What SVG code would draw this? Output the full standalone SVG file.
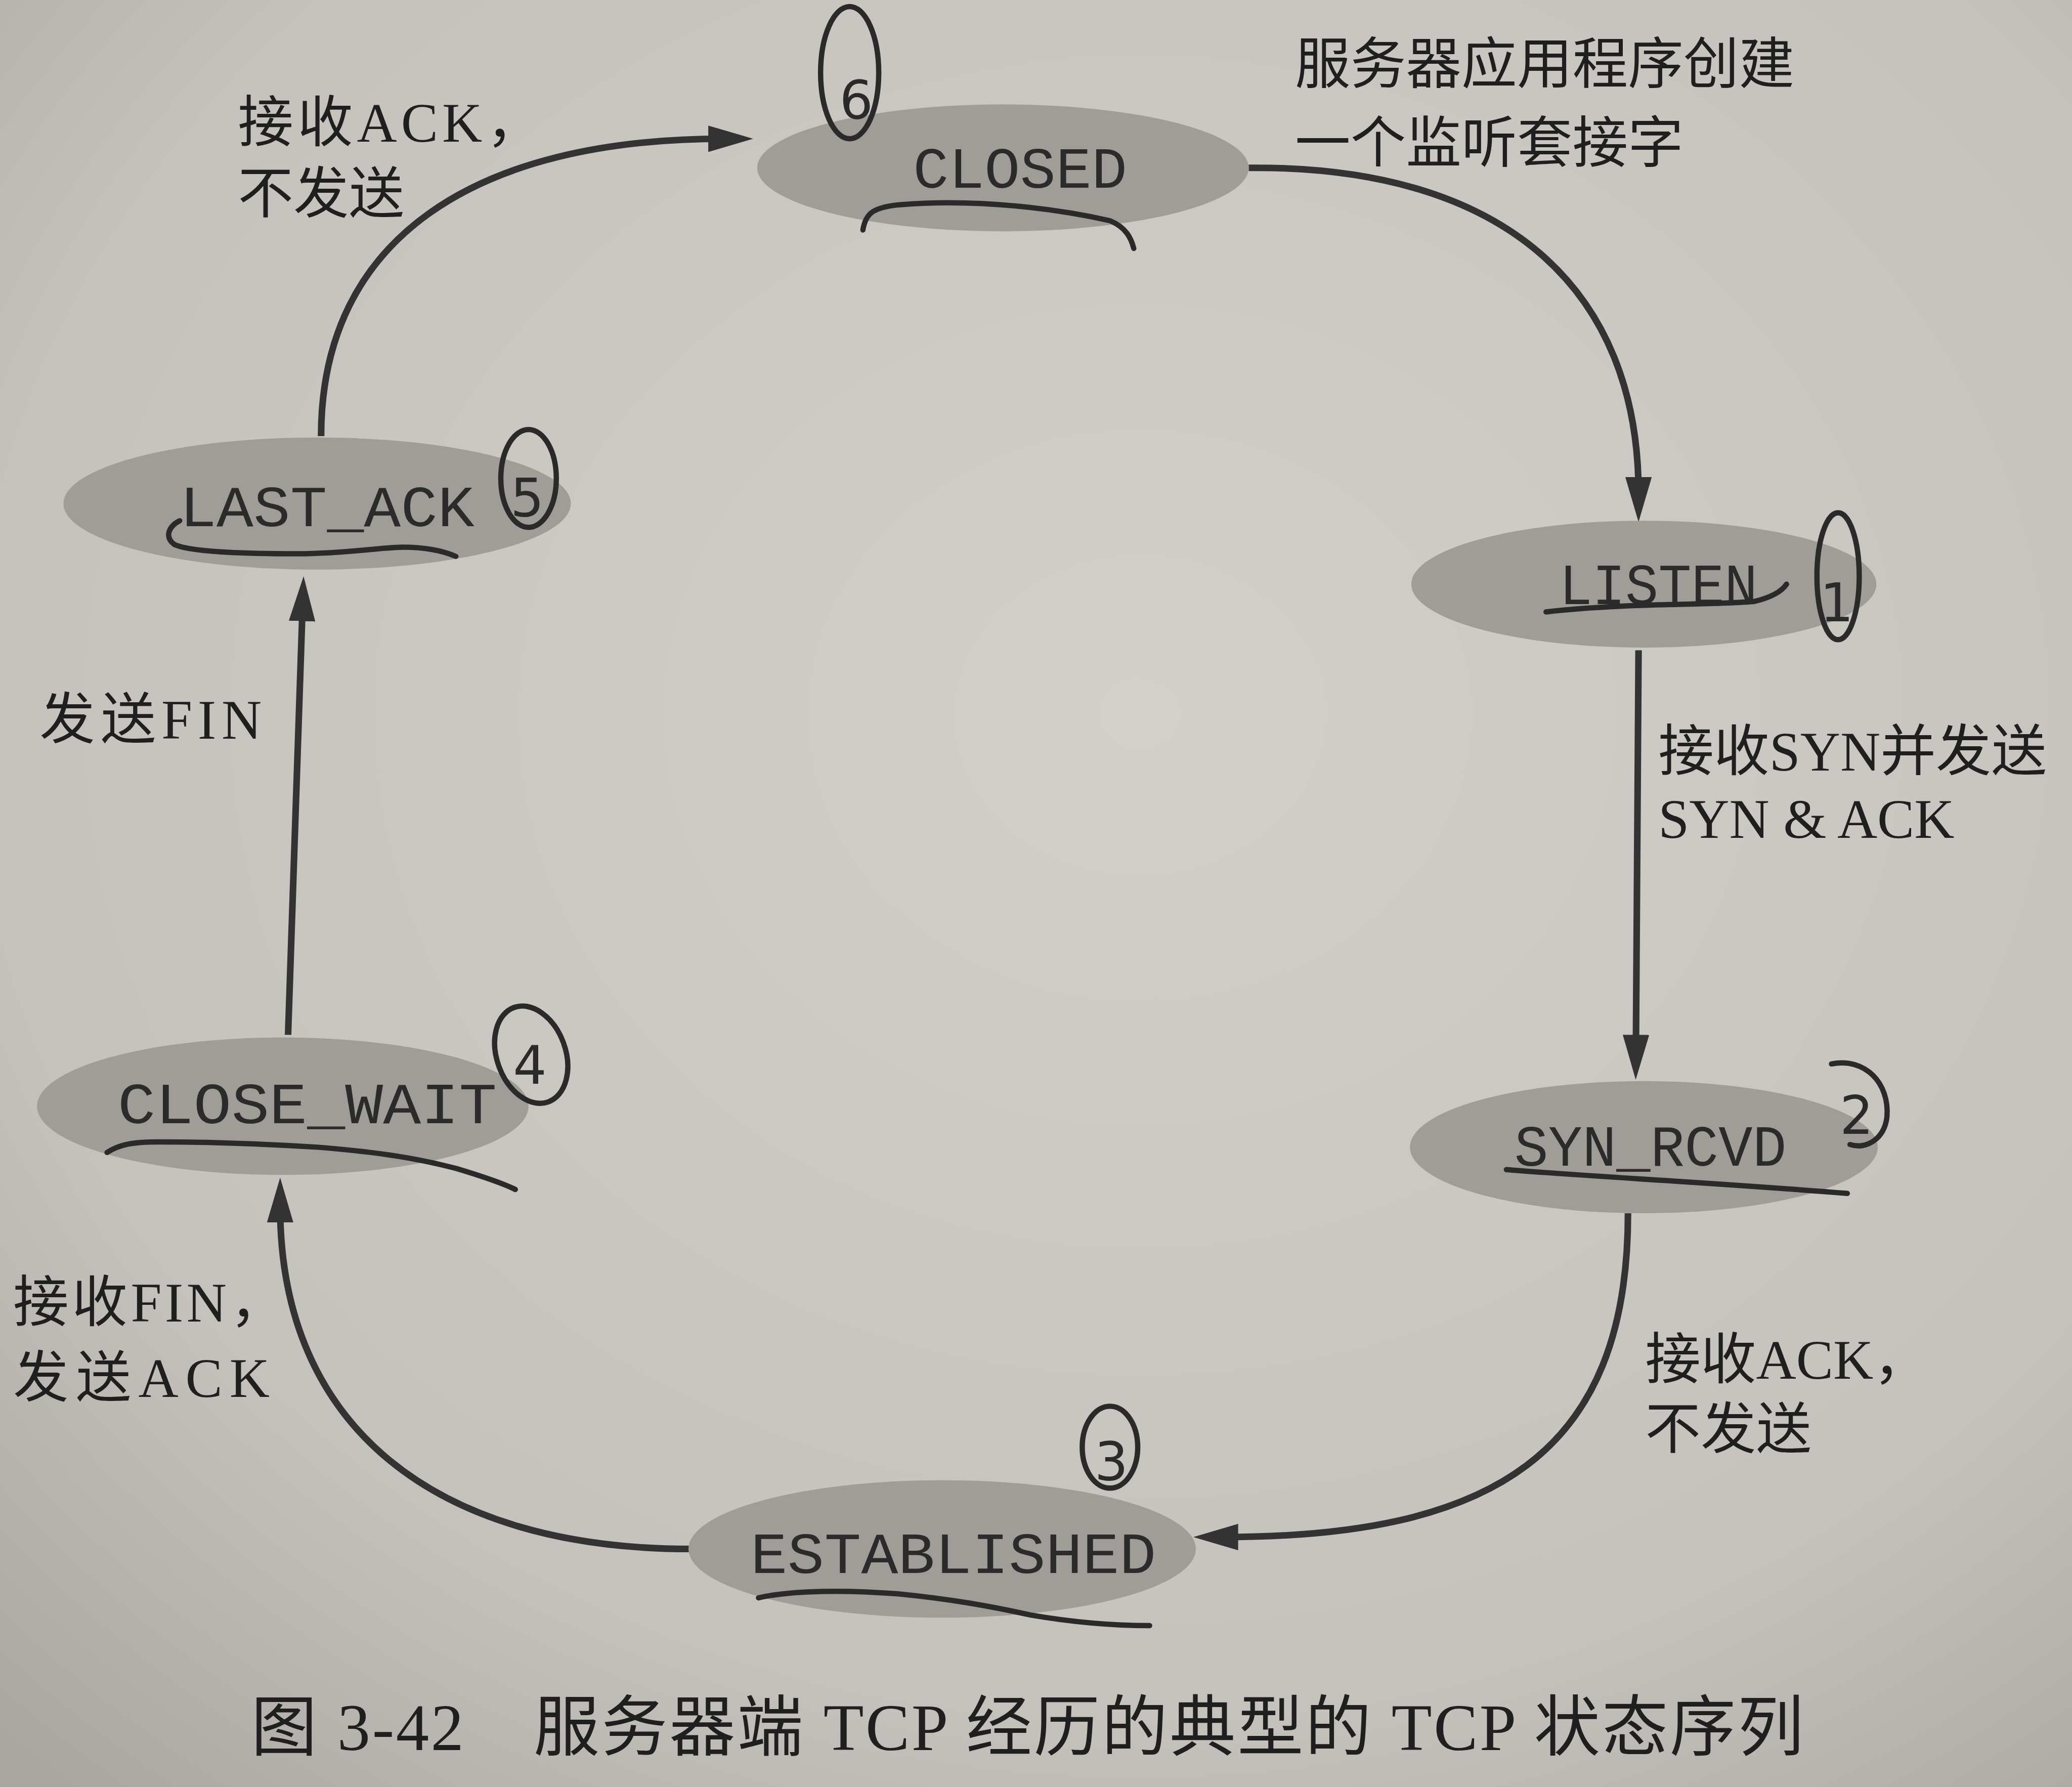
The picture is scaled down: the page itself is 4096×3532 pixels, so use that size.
<svg xmlns="http://www.w3.org/2000/svg" width="4096" height="3532" viewBox="0 0 4096 3532">
<defs>
<radialGradient id="paper" cx="0.55" cy="0.4" r="0.8">
<stop offset="0" stop-color="#d3cfca"/>
<stop offset="0.7" stop-color="#c5c1bc"/>
<stop offset="1" stop-color="#a9a5a1"/>
</radialGradient>
<marker id="arrow" markerUnits="userSpaceOnUse" markerWidth="34" markerHeight="20" viewBox="0 0 34 20" refX="12" refY="10" orient="auto">
<path d="M0,0 L34,10 L0,20 Z" fill="#333"/>
</marker>
</defs>
<style>
.node ellipse{fill:#a09d99;}
.state{font-family:"Liberation Mono","DejaVu Sans Mono",monospace;font-size:44px;fill:#2b2b2b;}
.lbl{font-family:"Liberation Serif","Noto Sans CJK SC",serif;font-size:42px;fill:#1f1f1f;}
.cap{font-family:"Liberation Serif","Noto Sans CJK SC",serif;font-size:50px;fill:#1f1f1f;}
.edge{fill:none;stroke:#333;stroke-width:5;marker-end:url(#arrow);}
.ink{fill:none;stroke:#2a2a2a;stroke-width:4;stroke-linecap:round;stroke-linejoin:round;}
.digit{font-family:"DejaVu Sans",sans-serif;font-size:40px;fill:#2a2a2a;text-anchor:middle;}
</style>
<rect width="4096" height="3532" fill="url(#paper)"/>
<g transform="scale(2.6122)">
<g id="connectors">
<path class="edge" d="M945,127 C1140,125 1240,220 1240,373"/>
<path class="edge" d="M1240,492 L1238,795"/>
<path class="edge" d="M1232,918 C1232,1100 1130,1163 925,1163"/>
<path class="edge" d="M522,1172 C330,1172 212,1080 212,913"/>
<path class="edge" d="M218,783 L229,458"/>
<path class="edge" d="M243,330 C243,180 360,105 548,105"/>
</g>
<g id="node-closed" class="node">
<ellipse cx="759" cy="127" rx="186" ry="48"/>
<text class="state" x="691" y="142" textLength="162" lengthAdjust="spacingAndGlyphs">CLOSED</text>
</g>
<g id="node-listen" class="node">
<ellipse cx="1244" cy="442" rx="176" ry="48"/>
<text class="state" x="1180" y="457" textLength="150" lengthAdjust="spacingAndGlyphs">LISTEN</text>
</g>
<g id="node-syn-rcvd" class="node">
<ellipse cx="1244" cy="868" rx="177" ry="50"/>
<text class="state" x="1146" y="882" textLength="206" lengthAdjust="spacingAndGlyphs">SYN_RCVD</text>
</g>
<g id="node-established" class="node">
<ellipse cx="713" cy="1172" rx="192" ry="52"/>
<text class="state" x="568" y="1190" textLength="307" lengthAdjust="spacingAndGlyphs">ESTABLISHED</text>
</g>
<g id="node-close-wait" class="node">
<ellipse cx="214" cy="837" rx="186" ry="52"/>
<text class="state" x="89" y="850" textLength="287" lengthAdjust="spacingAndGlyphs">CLOSE_WAIT</text>
</g>
<g id="node-last-ack" class="node">
<ellipse cx="240" cy="381" rx="192" ry="50"/>
<text class="state" x="136" y="398" textLength="223" lengthAdjust="spacingAndGlyphs">LAST_ACK</text>
</g>
<g id="labels">
<text class="lbl" x="180" y="107" textLength="230">接收ACK，</text>
<text class="lbl" x="180" y="161">不发送</text>
<text class="lbl" x="980" y="63">服务器应用程序创建</text>
<text class="lbl" x="980" y="123">一个监听套接字</text>
<text class="lbl" x="1255" y="583">接收SYN并发送</text>
<text class="lbl" x="1255" y="634">SYN &amp; ACK</text>
<text class="lbl" x="1245" y="1043">接收ACK，</text>
<text class="lbl" x="1245" y="1096">不发送</text>
<text class="lbl" x="10" y="1000" textLength="206">接收FIN，</text>
<text class="lbl" x="10" y="1057" textLength="194">发送ACK</text>
<text class="lbl" x="30" y="559" textLength="168">发送FIN</text>
<text class="cap" x="190" y="1324" textLength="1175">图 3-42　服务器端 TCP 经历的典型的 TCP 状态序列</text>
</g>
<g id="annotations">
<ellipse class="ink" cx="643" cy="55" rx="22" ry="50"/>
<text class="digit" x="648" y="90">6</text>
<path class="ink" d="M653,174 C655,162 660,157 680,155 C740,150 800,158 840,167 C852,172 856,180 858,188"/>
<ellipse class="ink" cx="1391" cy="436" rx="16" ry="48"/>
<text class="digit" x="1390" y="470">1</text>
<path class="ink" d="M1170,463 C1230,456 1300,458 1328,455 C1340,452 1348,448 1352,442"/>
<path class="ink" d="M1386,805 C1412,800 1430,820 1428,845 C1426,862 1412,870 1400,866"/>
<text class="digit" x="1405" y="858">2</text>
<path class="ink" d="M1140,885 C1200,890 1300,895 1398,903"/>
<ellipse class="ink" cx="840" cy="1095" rx="21" ry="31"/>
<text class="digit" x="841" y="1120">3</text>
<path class="ink" d="M574,1209 C600,1203 641,1203 680,1206 C720,1210 748,1215 780,1222 C815,1228 845,1230 870,1230"/>
<ellipse class="ink" cx="402" cy="798" rx="26" ry="38" transform="rotate(-20 402 798)"/>
<text class="digit" x="401" y="820">4</text>
<path class="ink" d="M81,872 C90,866 100,864 120,864 C160,864 208,866 240,868 C290,872 318,877 345,884 C365,890 380,895 390,900"/>
<ellipse class="ink" cx="400" cy="362" rx="21" ry="37"/>
<text class="digit" x="399" y="391">5</text>
<path class="ink" d="M136,394 C128,398 124,406 132,412 C145,418 190,419 225,419 C260,419 290,414 305,414 C325,414 338,418 345,421"/>
</g>
</g>
</svg>
